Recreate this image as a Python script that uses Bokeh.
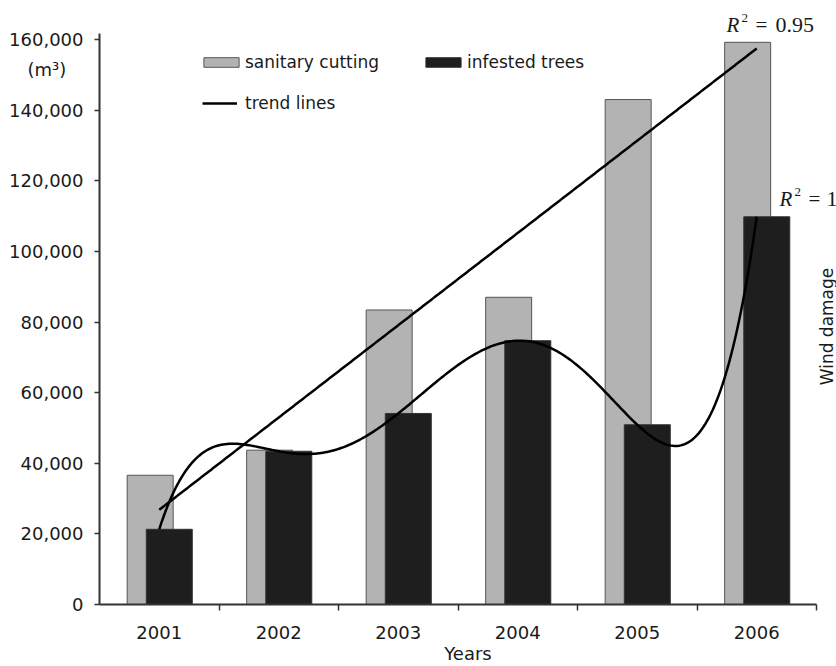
import math
import numpy as np
from bokeh.plotting import figure
from bokeh.models import (Range1d, FixedTicker, NumeralTickFormatter, Legend,
                          LegendItem, Label)
from bokeh.embed import file_html
from bokeh.resources import INLINE

# Wood volumes per year (m3)
years = [2001, 2002, 2003, 2004, 2005, 2006]
sanitary_cutting = [36600, 43700, 83400, 87000, 143000, 159200]
infested_trees = [21300, 43400, 54100, 74700, 50900, 109800]
y_ticks = [0, 20000, 40000, 60000, 80000, 100000, 120000, 140000, 160000]

SANS = "DejaVu Sans"
SERIF = "Liberation Serif"
GRAY = "#b3b3b3"
DARK = "#1e1e1e"
AXIS_COLOR = "#333333"
TEXT_COLOR = "#1a1a1a"

W, H = 836, 666
LEFT, BOTTOM = 99, 62           # px reserved for the axes
PX_PER_YEAR = 119.5
PX_PER_UNIT = 565 / 160000
Y_AXIS_TOP = 161700             # where the drawn y axis stops

# the frame runs to the top and right edges so the R² notes and the
# side caption can sit in it; the axes themselves are bounded
x0 = years[0] - 0.5
x_end = x0 + (W - LEFT) / PX_PER_YEAR
y_end = (H - BOTTOM) / PX_PER_UNIT

p = figure(width=W, height=H, output_backend="svg", toolbar_location=None,
           x_range=Range1d(x0, x_end), y_range=Range1d(0, y_end),
           min_border_left=LEFT, min_border_right=0, min_border_top=0,
           min_border_bottom=BOTTOM)
p.outline_line_color = None
p.xgrid.visible = False
p.ygrid.visible = False
p.background_fill_color = "white"
p.border_fill_color = "white"

# bars: grey slightly left of the year, black slightly right, overlapping
bar_w = 0.385
xs_sc = [y - 0.076 for y in years]
xs_it = [y + 0.084 for y in years]
r_sc = p.vbar(x=xs_sc, top=sanitary_cutting, width=bar_w, fill_color=GRAY,
              line_color="#555555", line_width=1)
r_it = p.vbar(x=xs_it, top=infested_trees, width=bar_w, fill_color=DARK,
              line_color="#333333", line_width=1)

# trend lines: linear fit for sanitary cutting, 5th-order polynomial for infested trees
t = np.arange(1, len(years) + 1, dtype=float)
sc = np.array(sanitary_cutting, dtype=float)
it = np.array(infested_trees, dtype=float)


def r_squared(obs, fit):
    ss_res = np.sum((obs - fit) ** 2)
    ss_tot = np.sum((obs - obs.mean()) ** 2)
    return 1 - ss_res / ss_tot


lin = np.polyfit(t, sc, 1)
poly = np.polyfit(t, it, 5)
r2_lin = r_squared(sc, np.polyval(lin, t))
r2_poly = r_squared(it, np.polyval(poly, t))

tt = np.linspace(1, len(years), 300)
r_trend = p.line(years[0] - 1 + tt, np.polyval(lin, tt), line_color="black",
                 line_width=2.5, line_join="round")
p.line(years[0] - 1 + tt, np.polyval(poly, tt), line_color="black",
       line_width=2.5, line_join="round")

# x axis: year labels centred, tick marks between the years
ax = p.xaxis[0]
ax.bounds = (x0, years[-1] + 0.5)
ax.ticker = FixedTicker(ticks=years, minor_ticks=[y + 0.5 for y in years])
ax.major_tick_in = 0
ax.major_tick_out = 0
ax.minor_tick_in = 0
ax.minor_tick_out = 6
ax.minor_tick_line_color = AXIS_COLOR
ax.minor_tick_line_width = 1.5
ax.axis_line_color = AXIS_COLOR
ax.axis_line_width = 2
ax.major_label_text_font = SANS
ax.major_label_text_font_size = "18px"
ax.major_label_text_color = TEXT_COLOR
ax.major_label_standoff = 15
ax.axis_label = "Years"
ax.axis_label_text_font = SANS
ax.axis_label_text_font_size = "18px"
ax.axis_label_text_font_style = "normal"
ax.axis_label_text_color = TEXT_COLOR
ax.axis_label_standoff = 1

# y axis: tick marks drawn as minor ticks so the unit caption gets a label
# slot without a mark of its own
unit_at = 151500
ay = p.yaxis[0]
ay.bounds = (0, Y_AXIS_TOP)
ay.ticker = FixedTicker(ticks=y_ticks + [unit_at], minor_ticks=y_ticks)
ay.formatter = NumeralTickFormatter(format="0,0")
ay.major_label_overrides = {unit_at: "(m\u00b3)\u00a0\u00a0\u00a0"}
ay.major_tick_in = 0
ay.major_tick_out = 0
ay.minor_tick_in = 0
ay.minor_tick_out = 5
ay.minor_tick_line_color = AXIS_COLOR
ay.minor_tick_line_width = 1.5
ay.axis_line_color = AXIS_COLOR
ay.axis_line_width = 2
ay.major_label_text_font = SANS
ay.major_label_text_font_size = "18px"
ay.major_label_text_color = TEXT_COLOR
ay.major_label_standoff = 11

# legend
leg_bars = Legend(items=[LegendItem(label="sanitary cutting", renderers=[r_sc]),
                         LegendItem(label="infested trees", renderers=[r_it])],
                  orientation="horizontal", location=(100, 532),
                  glyph_width=44, glyph_height=12, label_standoff=2,
                  label_width=176, spacing=0, padding=0, margin=0)
leg_line = Legend(items=[LegendItem(label="trend lines", renderers=[r_trend])],
                  location=(103, 491), glyph_width=35, glyph_height=12,
                  label_standoff=8, spacing=0, padding=0, margin=0)
for lg in (leg_bars, leg_line):
    lg.background_fill_alpha = 0
    lg.border_line_alpha = 0
    lg.label_text_font = SANS
    lg.label_text_font_size = "17px"
    lg.label_text_color = TEXT_COLOR
    lg.label_height = 20
    p.add_layout(lg)


# free text (screen offsets from the frame's lower-left corner)
def add_text(text, x, y, size, font=SANS, style="normal", align="center",
             baseline="middle", angle=0.0):
    p.add_layout(Label(x=x, y=y, x_units="screen", y_units="screen", text=text,
                       text_font=font, text_font_size=size, text_font_style=style,
                       text_align=align, text_baseline=baseline, angle=angle,
                       text_color=TEXT_COLOR))


add_text("Wind damage", 727, 278, "17px", angle=math.pi / 2)


def r2_label(value, x, y, value_dx):
    txt = f"{value:.2f}".rstrip("0").rstrip(".")
    add_text("R", x, y, "21px", font=SERIF, style="italic", align="left",
             baseline="alphabetic")
    add_text("2", x + 15, y + 7, "13px", font=SERIF, align="left",
             baseline="alphabetic")
    add_text("=", x + 29, y, "21px", font=SERIF, align="left",
             baseline="alphabetic")
    add_text(txt, x + value_dx, y, "22px", font=SERIF, align="left",
             baseline="alphabetic")


r2_label(r2_lin, 627, 580, 49)
r2_label(r2_poly, 680, 406, 47)

open("out.html", "w").write(file_html(p, INLINE))
